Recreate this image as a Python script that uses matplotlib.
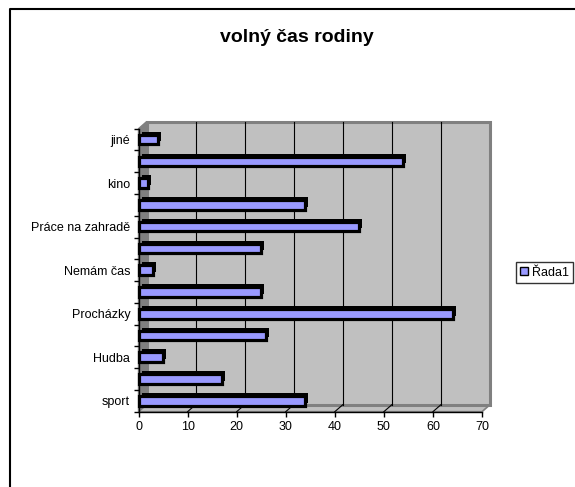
import matplotlib
matplotlib.use("Agg")
import matplotlib.pyplot as plt
from matplotlib.patches import Polygon, Rectangle, Patch
from matplotlib.lines import Line2D

plt.rcParams['font.family'] = ['Liberation Sans', 'DejaVu Sans']

# ------------------------ DATA ------------------------
# 13 categories from bottom to top; only every other one carries a label
categories = ['sport', '', 'Hudba', '', 'Procházky', '', 'Nemám čas', '',
              'Práce na zahradě', '', 'kino', '', 'jiné']
values = [34, 17, 5, 26, 64, 25, 3, 25, 45, 34, 2, 54, 4]
x_ticks = [0, 10, 20, 30, 40, 50, 60, 70]
series_name = 'Řada1'
title = 'volný čas rodiny'

# ------------------------ LAYOUT ------------------------
W, H = 575, 487
XMAX = 70
fig = plt.figure(figsize=(W / 100, H / 100), dpi=100)

# front plane of the fake 3D plot (pixel coords from the top-left)
left_px, right_px, top_px, bottom_px = 138.5, 482, 128.7, 411.7
ax = fig.add_axes([left_px / W, (H - bottom_px) / H,
                   (right_px - left_px) / W, (bottom_px - top_px) / H])
n = len(values)
ax.set_xlim(0, XMAX)
ax.set_ylim(-0.5, n - 0.5)

px_x = (right_px - left_px) / XMAX      # pixels per value unit
px_y = (bottom_px - top_px) / n         # pixels per category
dx, dy = 8 / px_x, 7 / px_y             # depth of the wall
bx, by = 3 / px_x, 3 / px_y             # depth of each bar

wall = '#C0C0C0'
edge = '#808080'
y0, y1 = -0.5, n - 0.5

# left wall, floor and back wall
ax.add_patch(Polygon([(0, y0), (dx, y0 + dy), (dx, y1 + dy), (0, y1)],
                     closed=True, fc=edge, ec=edge, lw=1, zorder=0, clip_on=False))
ax.add_patch(Polygon([(0, y0), (XMAX, y0), (XMAX + dx, y0 + dy), (dx, y0 + dy)],
                     closed=True, fc=wall, ec=edge, lw=1.2, zorder=0, clip_on=False))
ax.add_patch(Rectangle((dx, y0 + dy), XMAX, n, fc=wall, ec=edge, lw=2.2,
                       zorder=0, clip_on=False))

# gridlines on the back wall and floor
for k in x_ticks[1:-1]:
    ax.plot([k + dx, k + dx], [y0 + dy, y1 + dy], color='black', lw=0.8,
            zorder=1, clip_on=False)
    ax.plot([k, k + dx], [y0, y0 + dy], color='black', lw=0.8,
            zorder=1, clip_on=False)

# bars: black depth behind a blue front face
ypos = list(range(n))
ax.barh([y + by for y in ypos], values, left=bx, height=0.44,
        color='black', zorder=2, clip_on=False)
ax.barh(ypos, values, height=0.44, color='#9999FF', edgecolor='black',
        linewidth=2.3, zorder=3, clip_on=False)

# axes styling
for s in ['top', 'right']:
    ax.spines[s].set_visible(False)
for s in ['left', 'bottom']:
    ax.spines[s].set_linewidth(1)
    ax.spines[s].set_zorder(4)
ax.set_facecolor('none')
ax.set_xticks(x_ticks)
ax.set_xticklabels([str(t) for t in x_ticks], fontsize=9)
ax.tick_params(axis='x', direction='out', length=3.5, width=1, pad=3)

label_pos = [i for i, c in enumerate(categories) if c]
ax.set_yticks(label_pos)
ax.set_yticklabels([categories[i] for i in label_pos], fontsize=9)
ax.set_yticks([i - 0.5 for i in range(n + 1)], minor=True)
ax.tick_params(axis='y', which='major', length=0, pad=6)
ax.tick_params(axis='y', which='minor', direction='out', length=3.5, width=1)

# title
fig.text(297 / W, 1 - 38 / H, title, ha='center', va='center',
         fontsize=14, fontweight='bold')

# legend
leg = fig.legend(handles=[Patch(fc='#9999FF', ec='black')], labels=[series_name],
                 loc='center left', bbox_to_anchor=(516 / W, 1 - 272.5 / H),
                 frameon=True, fancybox=False, edgecolor='black', fontsize=9,
                 handlelength=0.6, handleheight=0.6, handletextpad=0.3,
                 borderpad=0.35, borderaxespad=0)
leg.get_frame().set_linewidth(1)

# chart area frame (only top and left edges visible)
fig.add_artist(Line2D([10 / W, 10 / W, 1], [0, 1 - 9 / H, 1 - 9 / H],
                      transform=fig.transFigure, color='black', lw=1.5))

fig.savefig('out.png', dpi=100)
